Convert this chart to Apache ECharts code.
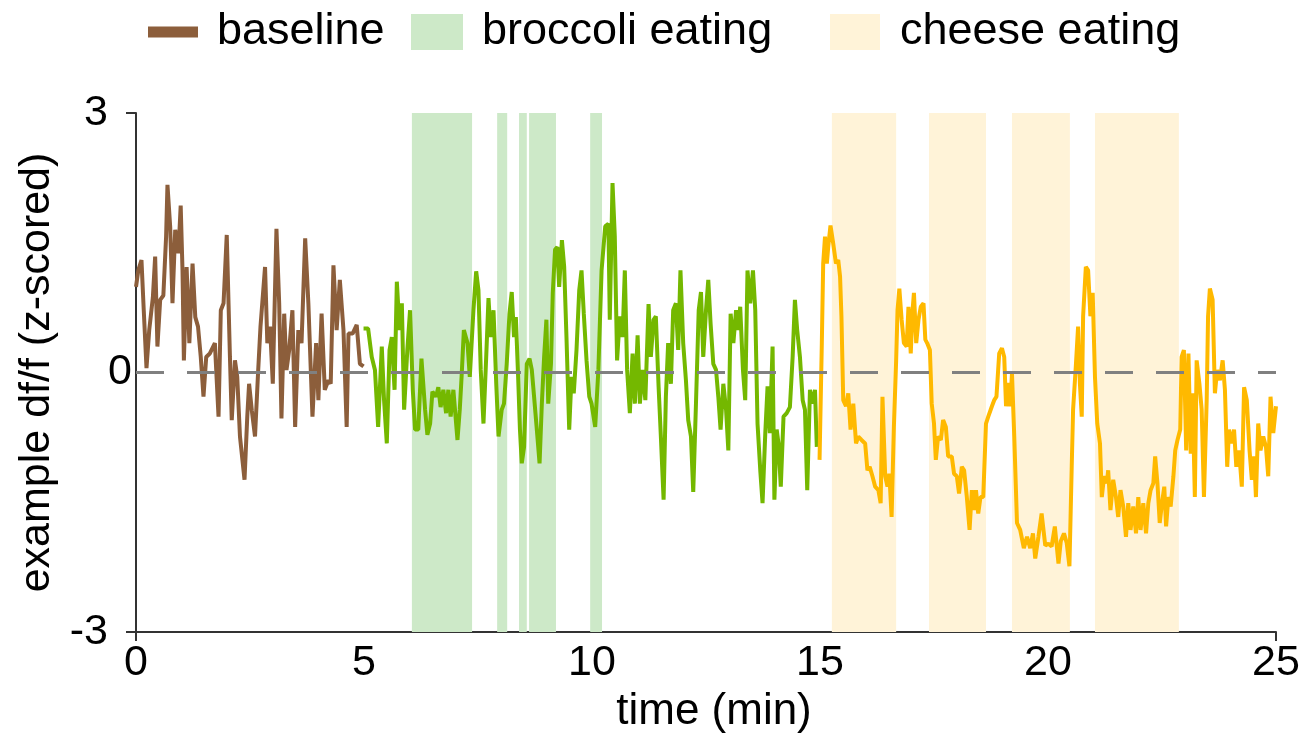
<!DOCTYPE html>
<html>
<head>
<meta charset="utf-8">
<script src="https://cdn.jsdelivr.net/npm/echarts@6/dist/echarts.min.js"></script>
<style>html,body{margin:0;padding:0;background:#fff}#c{width:1309px;height:747px}</style>
</head>
<body>
<div id="c"></div>
<script>
// ---- data (time in min, z-scored df/f) ----
var baseline = [[0,0.99],[0.05,1.18],[0.12,1.30],[0.17,0.72],[0.23,0.05],[0.29,0.49],[0.37,0.87],[0.42,1.34],[0.47,0.30],[0.53,0.84],[0.60,0.89],[0.66,1.57],[0.69,2.17],[0.75,1.68],[0.80,0.80],[0.86,1.65],[0.93,1.38],[0.98,1.93],[1.02,1.18],[1.05,0.14],[1.11,1.22],[1.17,0.34],[1.24,1.26],[1.30,0.64],[1.36,0.53],[1.42,0.18],[1.48,-0.28],[1.54,0.18],[1.62,0.22],[1.73,0.34],[1.81,-0.51],[1.86,0.72],[1.92,0.80],[1.99,1.59],[2.06,0.18],[2.10,-0.55],[2.17,0.14],[2.22,-0.05],[2.28,-0.74],[2.38,-1.24],[2.44,-0.51],[2.48,-0.13],[2.54,-0.44],[2.61,-0.74],[2.68,0.03],[2.73,0.53],[2.83,1.22],[2.88,0.34],[2.94,0.53],[3.00,-0.13],[3.08,1.66],[3.14,0.80],[3.19,-0.53],[3.25,0.68],[3.30,0.03],[3.36,0.26],[3.43,0.72],[3.49,-0.63],[3.56,0.49],[3.63,0.34],[3.71,1.55],[3.78,0.80],[3.87,-0.51],[3.95,0.34],[4.00,-0.32],[4.07,0.68],[4.14,-0.20],[4.22,-0.09],[4.27,-0.13],[4.33,1.24],[4.40,0.49],[4.47,1.07],[4.55,0.49],[4.62,-0.63],[4.66,0.45],[4.75,0.45],[4.84,0.55],[4.91,0.10],[4.99,0.07]];

var broccoli = [[4.99,0.51],[5.09,0.51],[5.17,0.18],[5.24,0.03],[5.31,-0.63],[5.39,0.30],[5.44,-0.32],[5.50,-0.82],[5.56,0.26],[5.61,0.41],[5.67,-0.20],[5.72,1.05],[5.78,0.49],[5.83,0.80],[5.88,-0.43],[5.95,0.26],[6.01,0.72],[6.07,-0.20],[6.12,-0.66],[6.19,-0.66],[6.26,0.16],[6.34,-0.43],[6.39,-0.72],[6.45,-0.59],[6.50,-0.22],[6.58,-0.28],[6.63,-0.17],[6.68,-0.40],[6.74,-0.20],[6.80,-0.47],[6.85,-0.20],[6.90,-0.51],[6.96,-0.20],[7.05,-0.78],[7.10,-0.43],[7.14,-0.05],[7.19,0.49],[7.27,0.34],[7.32,-0.05],[7.40,0.72],[7.46,1.17],[7.51,0.95],[7.56,0.03],[7.62,-0.59],[7.68,0.18],[7.73,0.86],[7.78,0.41],[7.84,0.72],[7.90,-0.13],[7.95,-0.74],[8.02,-0.43],[8.07,-0.36],[8.13,0.10],[8.19,0.68],[8.24,0.93],[8.29,0.41],[8.33,0.64],[8.38,-0.05],[8.42,-0.66],[8.46,-1.05],[8.51,-0.86],[8.57,0.10],[8.63,0.16],[8.68,0.03],[8.73,-0.28],[8.79,-0.66],[8.85,-1.05],[8.90,-0.36],[8.95,0.18],[9.00,0.61],[9.04,-0.36],[9.10,0.10],[9.14,0.92],[9.19,1.42],[9.24,1.45],[9.28,0.99],[9.34,1.53],[9.39,1.22],[9.44,0.41],[9.50,-0.66],[9.55,-0.05],[9.60,-0.24],[9.66,0.26],[9.72,0.95],[9.77,1.18],[9.82,0.68],[9.88,0.14],[9.94,-0.28],[9.99,-0.36],[10.07,-0.63],[10.14,0.03],[10.21,1.18],[10.29,1.69],[10.36,1.72],[10.39,0.61],[10.45,2.19],[10.50,1.57],[10.55,0.14],[10.61,0.65],[10.67,0.41],[10.72,1.18],[10.77,0.03],[10.83,-0.47],[10.89,0.22],[10.94,-0.36],[11.00,0.43],[11.05,-0.36],[11.11,0.03],[11.17,-0.32],[11.24,0.79],[11.29,0.18],[11.35,0.61],[11.40,0.65],[11.46,-0.16],[11.51,-0.74],[11.57,-1.47],[11.62,-0.28],[11.67,0.34],[11.73,-0.13],[11.78,0.72],[11.84,0.80],[11.89,0.26],[11.94,1.18],[12.00,0.34],[12.06,-0.09],[12.11,-0.55],[12.17,-0.74],[12.22,-1.38],[12.28,-0.36],[12.34,0.72],[12.39,0.93],[12.44,0.18],[12.50,0.72],[12.55,1.07],[12.60,0.57],[12.66,0.10],[12.72,0.03],[12.77,-0.28],[12.82,-0.66],[12.88,-0.13],[12.94,-0.43],[12.99,-0.90],[13.04,0.68],[13.10,0.34],[13.16,0.72],[13.21,0.49],[13.25,0.76],[13.31,0.03],[13.36,-0.32],[13.41,1.18],[13.47,0.80],[13.53,1.18],[13.58,0.72],[13.63,-0.59],[13.69,-1.13],[13.74,-1.51],[13.80,-0.70],[13.85,-0.16],[13.90,-0.70],[13.96,0.30],[14.00,-1.47],[14.05,-0.66],[14.09,-0.82],[14.14,-1.32],[14.20,-0.51],[14.27,-0.47],[14.34,-0.40],[14.40,0.18],[14.45,0.84],[14.50,0.49],[14.56,0.18],[14.62,-0.32],[14.67,-0.43],[14.72,-1.36],[14.78,-0.20],[14.84,-0.36],[14.89,-0.20],[14.93,-0.86]];

var cheese = [[14.99,-1.01],[15.04,0.34],[15.07,1.26],[15.11,1.57],[15.15,1.26],[15.18,1.45],[15.23,1.70],[15.29,1.49],[15.35,1.26],[15.40,1.30],[15.44,1.11],[15.47,0.65],[15.51,-0.32],[15.57,-0.39],[15.62,-0.24],[15.67,-0.66],[15.73,-0.36],[15.79,-0.82],[15.84,-0.74],[15.91,-0.78],[15.99,-0.82],[16.04,-1.13],[16.09,-1.09],[16.15,-1.20],[16.21,-1.32],[16.28,-1.36],[16.33,-1.51],[16.37,-0.28],[16.43,-1.20],[16.48,-1.32],[16.52,-1.17],[16.57,-1.67],[16.62,-0.63],[16.67,0.14],[16.70,0.72],[16.74,0.97],[16.79,0.61],[16.84,0.34],[16.90,0.30],[16.94,0.76],[16.99,0.22],[17.03,0.72],[17.06,0.92],[17.11,0.34],[17.16,0.61],[17.21,0.76],[17.27,0.80],[17.31,0.38],[17.35,0.34],[17.41,0.26],[17.45,-0.36],[17.50,-0.59],[17.54,-1.01],[17.59,-0.74],[17.65,-0.78],[17.70,-0.55],[17.76,-0.63],[17.81,-0.97],[17.89,-0.97],[17.94,-1.17],[18.00,-1.20],[18.05,-1.40],[18.11,-1.09],[18.16,-1.13],[18.22,-1.44],[18.28,-1.82],[18.33,-1.36],[18.38,-1.59],[18.42,-1.36],[18.47,-1.63],[18.52,-1.44],[18.58,-1.44],[18.64,-0.59],[18.69,-0.51],[18.77,-0.39],[18.82,-0.32],[18.87,-0.28],[18.93,0.22],[18.99,0.28],[19.04,0.18],[19.08,-0.39],[19.13,-0.12],[19.17,-0.39],[19.21,-0.01],[19.26,-0.74],[19.32,-1.74],[19.39,-1.82],[19.47,-2.03],[19.54,-1.90],[19.61,-2.03],[19.67,-1.86],[19.72,-2.15],[19.79,-1.90],[19.86,-1.63],[19.94,-2.00],[20.01,-1.98],[20.08,-2.01],[20.15,-1.78],[20.23,-2.21],[20.28,-1.95],[20.35,-1.86],[20.41,-1.97],[20.47,-2.24],[20.52,-1.09],[20.55,-0.43],[20.61,0.07],[20.66,0.53],[20.70,-0.13],[20.74,-0.51],[20.77,0.65],[20.83,1.22],[20.88,1.18],[20.93,0.65],[20.98,0.92],[21.03,-0.05],[21.08,-0.59],[21.14,-0.82],[21.18,-1.44],[21.23,-1.20],[21.29,-1.28],[21.32,-1.13],[21.37,-1.59],[21.43,-1.24],[21.49,-1.44],[21.54,-1.67],[21.59,-1.36],[21.65,-1.55],[21.71,-1.90],[21.76,-1.51],[21.81,-1.82],[21.87,-1.55],[21.93,-1.86],[21.98,-1.44],[22.03,-1.82],[22.09,-1.51],[22.15,-1.86],[22.20,-1.51],[22.25,-1.36],[22.31,-1.28],[22.35,-0.97],[22.40,-1.28],[22.45,-1.74],[22.50,-1.51],[22.55,-1.32],[22.59,-1.78],[22.64,-1.44],[22.69,-1.55],[22.75,-1.20],[22.79,-0.90],[22.84,-0.78],[22.90,-0.66],[22.93,0.18],[22.98,0.26],[23.03,-0.90],[23.08,0.22],[23.13,-0.94],[23.17,-0.24],[23.22,-1.44],[23.26,0.14],[23.32,-0.13],[23.37,-0.43],[23.42,-1.44],[23.48,-0.32],[23.51,0.65],[23.55,0.97],[23.61,0.84],[23.66,-0.24],[23.71,0.03],[23.77,-0.09],[23.83,0.14],[23.88,-0.20],[23.93,-1.09],[23.97,-0.66],[24.03,-0.82],[24.08,-0.66],[24.13,-1.09],[24.19,-0.90],[24.25,-1.32],[24.30,-0.17],[24.36,-0.32],[24.42,-0.90],[24.47,-1.24],[24.52,-0.97],[24.56,-1.44],[24.61,-0.59],[24.66,-0.90],[24.72,-0.74],[24.78,-0.86],[24.83,-1.20],[24.88,-0.28],[24.94,-0.70],[25.00,-0.39]];

// eating periods (min)
var broccoliStart = [6.05, 7.92, 8.40, 8.62, 9.96];
var broccoliEnd   = [7.37, 8.14, 8.57, 9.21, 10.22];
var cheeseStart   = [15.26, 17.39, 19.21, 21.03];
var cheeseEnd     = [16.67, 18.64, 20.48, 22.87];

var xTickLabels = [0, 5, 10, 15, 20, 25];
var yOuterLabels = [-3, 3];
var yInnerLabels = [0];
var xTickMarks = [0, 25];
var yTickMarks = [-3, 3];

var FONT = "'Liberation Sans', Arial, sans-serif";
var C_BROWN = '#8c5e3b', C_GREEN = '#74b800', C_ORANGE = '#ffb900';
var C_BAND_G = '#cde9c8', C_BAND_C = '#fff3d8';

function bands(s, e) { return s.map(function (v, i) { return [{ xAxis: v }, { xAxis: e[i] }]; }); }

var chart = echarts.init(document.getElementById('c'), null, { renderer: 'canvas' });
var legendText = { fontSize: 45, fontFamily: FONT, color: '#000', lineHeight: 46 };
chart.setOption({
  animation: false,
  backgroundColor: '#fff',
  textStyle: { fontFamily: FONT },
  grid: { left: 136, right: 33, top: 113, bottom: 115, containLabel: false },
  legend: [
    { data: ['baseline'], left: 148, top: 9, padding: 0, icon: 'rect', itemWidth: 50, itemHeight: 11,
      selectedMode: false, textStyle: Object.assign({ padding: [0, 0, 0, 14] }, legendText) },
    { data: ['broccoli eating'], left: 411, top: 9, padding: 0, icon: 'rect', itemWidth: 52, itemHeight: 36,
      selectedMode: false, textStyle: Object.assign({ padding: [0, 0, 0, 14] }, legendText) },
    { data: ['cheese eating'], left: 830, top: 9, padding: 0, icon: 'rect', itemWidth: 50, itemHeight: 36,
      selectedMode: false, textStyle: Object.assign({ padding: [0, 0, 0, 15] }, legendText) }
  ],
  xAxis: {
    type: 'value', min: 0, max: 25, interval: 5,
    name: 'time (min)', nameLocation: 'middle', nameGap: 58,
    nameTextStyle: { fontSize: 44, color: '#000', fontFamily: FONT, padding: [0, 0, 0, 16] },
    axisLine: { show: true, onZero: false, lineStyle: { color: '#333', width: 2 } },
    axisTick: { show: true, length: 9, customValues: xTickMarks, lineStyle: { color: '#333', width: 2 } },
    axisLabel: { customValues: xTickLabels, fontSize: 43, color: '#000', margin: 10, fontFamily: FONT },
    splitLine: { show: false }
  },
  yAxis: [{
    type: 'value', min: -3, max: 3, interval: 3,
    name: 'example df/f (z-scored)', nameLocation: 'middle', nameGap: 74,
    nameTextStyle: { fontSize: 43, color: '#000', fontFamily: FONT },
    axisLine: { show: true, onZero: false, lineStyle: { color: '#333', width: 2 } },
    axisTick: { show: true, length: 10, customValues: yTickMarks, lineStyle: { color: '#333', width: 2 } },
    axisLabel: { customValues: yOuterLabels, fontSize: 43, color: '#000', margin: 28, fontFamily: FONT },
    splitLine: { show: false }
  }, {
    type: 'value', min: -3, max: 3, interval: 3, position: 'left', offset: 0,
    axisLine: { show: false }, axisTick: { show: false }, splitLine: { show: false },
    axisLabel: { customValues: yInnerLabels, fontSize: 43, color: '#000', margin: 4, fontFamily: FONT }
  }],
  series: [
    { name: 'broccoli eating', type: 'line', data: [], color: C_BAND_G, z: 1, silent: true,
      markArea: { silent: true, itemStyle: { color: C_BAND_G, opacity: 1 }, data: bands(broccoliStart, broccoliEnd) } },
    { name: 'cheese eating', type: 'line', data: [], color: C_BAND_C, z: 1, silent: true,
      markArea: { silent: true, itemStyle: { color: C_BAND_C, opacity: 1 }, data: bands(cheeseStart, cheeseEnd) } },
    { name: 'baseline', type: 'line', data: baseline, showSymbol: false, symbol: 'none', color: C_BROWN,
      lineStyle: { width: 4, color: C_BROWN }, z: 3 },
    { name: 'broccoli', type: 'line', data: broccoli, showSymbol: false, symbol: 'none', color: C_GREEN,
      lineStyle: { width: 4, color: C_GREEN }, z: 3 },
    { name: 'cheese', type: 'line', data: cheese, showSymbol: false, symbol: 'none', color: C_ORANGE,
      lineStyle: { width: 4, color: C_ORANGE }, z: 3 },
    { name: 'zero', type: 'line', data: [], z: 5, silent: true,
      markLine: { silent: true, symbol: 'none', label: { show: false },
        lineStyle: { color: '#808080', width: 3, type: [28, 23] }, data: [{ yAxis: 0 }] } }
  ]
});
</script>
</body>
</html>
